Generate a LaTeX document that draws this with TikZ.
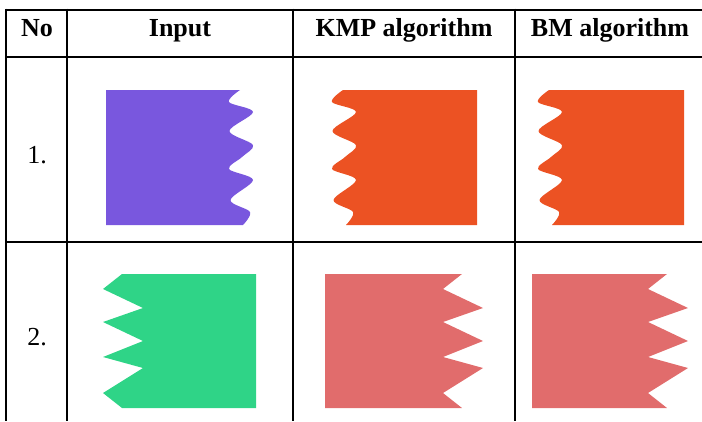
\documentclass[tikz,border=0pt]{standalone}
\usepackage{fontspec}
\setmainfont{Liberation Serif}
\definecolor{wavepurple}{HTML}{7957DE}
\definecolor{waveorange}{HTML}{EC5223}
\definecolor{zigzaggreen}{HTML}{2FD487}
\definecolor{zigzagred}{HTML}{E16C6C}
\tikzset{
  rule/.style={line width=2pt, black},
  headtext/.style={font=\fontsize{26}{30}\selectfont\bfseries, anchor=base, inner sep=0pt},
  celltext/.style={font=\fontsize{26}{30}\selectfont, anchor=base, inner sep=0pt},
  wavy/.style={smooth, tension=0.55}
}
\begin{document}
\begin{tikzpicture}[x=1pt, y=-1pt]
\useasboundingbox (0,0) rectangle (702,421);

% table rules
\draw[rule] (5,9.5) -- (702,9.5);
\draw[rule] (5,57) -- (702,57);
\draw[rule] (5,242) -- (702,242);
\draw[rule] (6,8.5) -- (6,421);
\draw[rule] (67,8.5) -- (67,421);
\draw[rule] (293,8.5) -- (293,421);
\draw[rule] (515,8.5) -- (515,421);

% header
\node[headtext] (hno)  at (37,36) {No};
\node[headtext] (hin)  at (180,36) {Input};
\node[headtext] (hkmp) at (404,36) {KMP algorithm};
\node[headtext] (hbm)  at (610,36) {BM algorithm};

% row numbers
\node[celltext] (r1) at (37,163) {1.};
\node[celltext] (r2) at (37,345) {2.};

% row 1: wavy shapes (same wavy edge, shifted sideways)
\foreach \dx/\col/\far in {0/wavepurple/106, 103/waveorange/374, 309/waveorange/375} {
  \begin{scope}[xshift=\dx pt]
    \fill[\col] (\far,90) -- plot[wavy] coordinates {
      (240,90) (229,102) (253,112) (229.5,131) (253,145) (242,157)
      (229,169) (253,180) (230.5,200) (250,212) (243,225)}
      -- (\far,225) -- cycle;
  \end{scope}
}

% row 2: saw-tooth shapes (same saw edge, shifted sideways)
\foreach \dx/\col/\far in {0/zigzaggreen/256, 340/zigzagred/-15, 545/zigzagred/-13} {
  \begin{scope}[xshift=\dx pt]
    \fill[\col] (\far,274) -- (\far,408) -- (122,408) -- (103,393) -- (143,368)
      -- (103,357) -- (143,341) -- (103,322) -- (143,308) -- (103,289)
      -- (122,274) -- cycle;
  \end{scope}
}
\end{tikzpicture}
\end{document}
